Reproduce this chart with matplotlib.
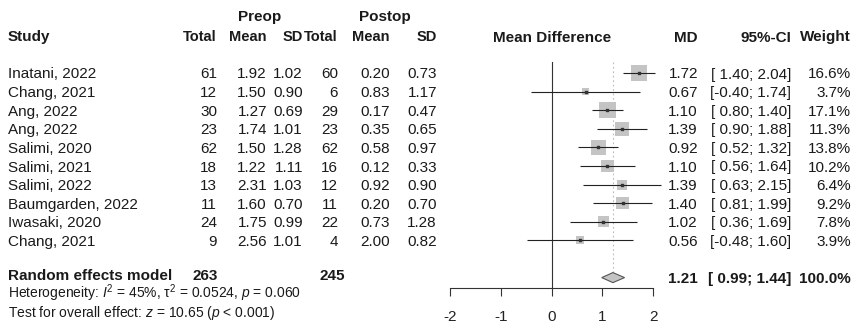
import matplotlib
matplotlib.use("Agg")
import matplotlib.pyplot as plt
from matplotlib.transforms import blended_transform_factory
import numpy as np

plt.rcParams["font.family"] = ["Liberation Sans", "DejaVu Sans"]
plt.rcParams["mathtext.fontset"] = "custom"
plt.rcParams["mathtext.rm"] = "Liberation Sans"
plt.rcParams["mathtext.it"] = "Liberation Sans:italic"

studies = ["Inatani, 2022", "Chang, 2021", "Ang, 2022", "Ang, 2022", "Salimi, 2020",
           "Salimi, 2021", "Salimi, 2022", "Baumgarden, 2022", "Iwasaki, 2020", "Chang, 2021"]
pre_n = [61, 12, 30, 23, 62, 18, 13, 11, 24, 9]
pre_mean = [1.92, 1.50, 1.27, 1.74, 1.50, 1.22, 2.31, 1.60, 1.75, 2.56]
pre_sd = [1.02, 0.90, 0.69, 1.01, 1.28, 1.11, 1.03, 0.70, 0.99, 1.01]
post_n = [60, 6, 29, 23, 62, 16, 12, 11, 22, 4]
post_mean = [0.20, 0.83, 0.17, 0.35, 0.58, 0.12, 0.92, 0.20, 0.73, 2.00]
post_sd = [0.73, 1.17, 0.47, 0.65, 0.97, 0.33, 0.90, 0.70, 1.28, 0.82]
md = [1.72, 0.67, 1.10, 1.39, 0.92, 1.10, 1.39, 1.40, 1.02, 0.56]
ci_low = [1.40, -0.40, 0.80, 0.90, 0.52, 0.56, 0.63, 0.81, 0.36, -0.48]
ci_high = [2.04, 1.74, 1.40, 1.88, 1.32, 1.64, 2.15, 1.99, 1.69, 1.60]
weight = [16.6, 3.7, 17.1, 11.3, 13.8, 10.2, 6.4, 9.2, 7.8, 3.9]

pooled_md, pooled_low, pooled_high = 1.21, 0.99, 1.44
pooled_pre_n, pooled_post_n = 263, 245
x_ticks = [-2, -1, 0, 1, 2]

W, H = 854, 323
fig = plt.figure(figsize=(W / 100, H / 100), dpi=100)
# forest panel: x=-2 at 450px, x=2 at 653px; axis line at 288px from top
row0, row_h, axis_y = 73, 18.6, 288
ax = fig.add_axes([450 / W, (H - axis_y) / H, 203 / W, axis_y / H])
ax.set_xlim(-2, 2)
ax.set_ylim((axis_y - row0) / row_h, -row0 / row_h)
for side in ["top", "right", "left"]:
    ax.spines[side].set_visible(False)
ax.spines["bottom"].set_bounds(-2, 2)
ax.spines["bottom"].set_linewidth(0.8)
ax.spines["bottom"].set_color("#333333")
ax.set_yticks([])
ax.set_xticks(x_ticks)
ax.set_xticklabels([str(t) for t in x_ticks], fontsize=11, color="#222222")
ax.tick_params(axis="x", direction="out", length=6, width=0.8, pad=10, color="#333333")
ax.patch.set_alpha(0)

rows = np.arange(len(studies))
ax.plot([0, 0], [-0.6, ax.get_ylim()[0]], color="#333333", lw=0.8, clip_on=False)
ax.plot([pooled_md, pooled_md], [-0.6, 10.75], color="#bbbbbb", lw=0.8,
        ls=(0, (1.5, 2.5)), clip_on=False)

sizes = (16.5 * np.sqrt(np.array(weight) / max(weight)) * 0.72) ** 2
ax.scatter(md, rows, s=sizes, marker="s", color="#c4c4c4", edgecolor="none",
           zorder=2, clip_on=False)
ax.hlines(rows, ci_low, ci_high, color="#222222", lw=0.8, zorder=3, clip_on=False)
ax.scatter(md, rows, s=4, marker="s", color="#333333", zorder=4, clip_on=False)

r_pool = 11
dh = 0.27
ax.fill([pooled_low, pooled_md, pooled_high, pooled_md],
        [r_pool, r_pool - dh, r_pool, r_pool + dh],
        facecolor="#c4c4c4", edgecolor="#555555", lw=0.8, clip_on=False, zorder=3)

tr = blended_transform_factory(fig.transFigure, ax.transData)
txt = "#1a1a1a"


def put(x, y, s, ha="right", bold=False, size=11):
    # y is the row centre; shift down to the baseline by half the cap height
    base = y + 0.36 * size * 100 / 72 / row_h
    fig.text(x / W, base, s, ha=ha, va="baseline", transform=tr, fontsize=size,
             fontweight="bold" if bold else "normal", color=txt)


def px_row(p):
    return (p - row0) / row_h


# headers
put(260, px_row(15), "Preop", ha="center", bold=True)
put(385, px_row(15), "Postop", ha="center", bold=True)
put(8, px_row(36), "Study", ha="left", bold=True)
cols = [217, 267, 303, 338, 390, 437]
for x, lab in zip(cols, ["Total", "Mean", "SD", "Total", "Mean", "SD"]):
    put(x, px_row(36), lab, bold=True, size=10.5)
put(552, px_row(36), "Mean Difference", ha="center", bold=True)
put(698, px_row(36), "MD", bold=True)
put(791, px_row(36), "95%-CI", bold=True)
put(851, px_row(36), "Weight", bold=True)

for i in rows:
    put(8, i, studies[i], ha="left")
    put(cols[0], i, f"{pre_n[i]}")
    put(cols[1], i, f"{pre_mean[i]:.2f}")
    put(cols[2], i, f"{pre_sd[i]:.2f}")
    put(cols[3], i, f"{post_n[i]}")
    put(cols[4], i, f"{post_mean[i]:.2f}")
    put(cols[5], i, f"{post_sd[i]:.2f}")
    put(698, i, f"{md[i]:.2f}")
    lo = f"{ci_low[i]:.2f}" if ci_low[i] < 0 else f" {ci_low[i]:.2f}"
    put(791, i, f"[{lo}; {ci_high[i]:.2f}]")
    put(851, i, f"{weight[i]:.1f}%")

r_text = px_row(274)
put(8, r_text, "Random effects model", ha="left", bold=True)
put(218, r_text, f"{pooled_pre_n}", bold=True)
put(345, r_text, f"{pooled_post_n}", bold=True)
put(698, r_pool, f"{pooled_md:.2f}", bold=True)
put(791, r_pool, f"[ {pooled_low:.2f}; {pooled_high:.2f}]", bold=True)
put(851, r_pool, "100.0%", bold=True)

put(8, px_row(293),
    r"Heterogeneity: $I^2$ = 45%, τ$^2$ = 0.0524, $p$ = 0.060", ha="left", size=10)
put(8, px_row(312.5),
    r"Test for overall effect: $z$ = 10.65 ($p$ < 0.001)", ha="left", size=10)

fig.savefig("out.png", dpi=100)
